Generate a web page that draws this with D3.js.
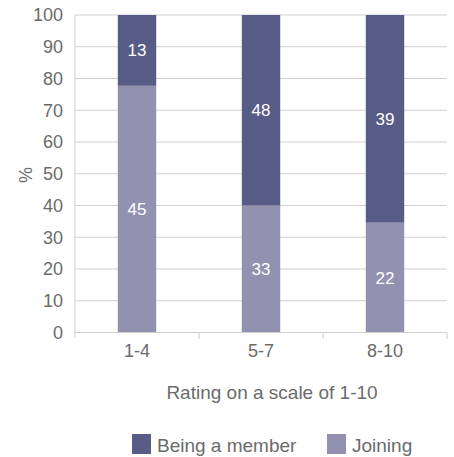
<!DOCTYPE html>
<html><head><meta charset="utf-8">
<script src="https://cdn.jsdelivr.net/npm/d3@7"></script>
<style>body{margin:0;background:#fff}svg{display:block}text{font-family:"Liberation Sans",Arial,sans-serif}</style>
</head><body>
<script>
const categories = ["1-4","5-7","8-10"];
const seriesNames = ["Being a member","Joining"];
// bar segment shares (%)
const joiningPct = [77.7, 40, 34.6];
const memberPct = [22.3, 60, 65.4];
// labels printed on segments
const joiningLabels = [45, 33, 22];
const memberLabels = [13, 48, 39];
const yTicks = [0,10,20,30,40,50,60,70,80,90,100];
const colors = {"Being a member":"#575c87","Joining":"#9391b0"};

const W=454,H=457;
const txt="#6b6b6b";
const svg=d3.select("body").append("svg").attr("width",W).attr("height",H);
const x=d3.scaleBand().domain(categories).range([75,447]).paddingInner(0.69).paddingOuter(0.345);
const y=d3.scaleLinear().domain([0,100]).range([332.5,15]);

// gridlines
svg.append("g").selectAll("line").data(yTicks.filter(d=>d>0)).join("line")
 .attr("x1",75).attr("x2",447).attr("y1",d=>y(d)).attr("y2",d=>y(d))
 .attr("stroke","#cfcfcf").attr("stroke-width",1);

// y axis
const ya=svg.append("g").attr("transform","translate(75,0)")
 .call(d3.axisLeft(y).tickValues(yTicks).tickSize(0).tickPadding(12));
ya.select(".domain").remove();
ya.selectAll("text").attr("fill",txt).style("font-size","18px");
svg.append("line").attr("x1",75).attr("x2",75).attr("y1",15).attr("y2",338).attr("stroke","#cfcfcf");

// bars
const data=categories.map((c,i)=>({c,j:joiningPct[i],m:memberPct[i],jl:joiningLabels[i],ml:memberLabels[i]}));
const g=svg.append("g");
g.selectAll(".j").data(data).join("rect").attr("x",d=>x(d.c)).attr("width",x.bandwidth())
 .attr("y",d=>y(d.j)).attr("height",d=>y(0)-y(d.j)).attr("fill",colors["Joining"]);
g.selectAll(".m").data(data).join("rect").attr("x",d=>x(d.c)).attr("width",x.bandwidth())
 .attr("y",d=>y(d.j+d.m)).attr("height",d=>y(d.j)-y(d.j+d.m)).attr("fill",colors["Being a member"]);
g.selectAll(".jt").data(data).join("text").attr("x",d=>x(d.c)+x.bandwidth()/2)
 .attr("y",d=>(y(0)+y(d.j))/2).attr("dy","0.35em").attr("text-anchor","middle")
 .attr("fill","#fff").style("font-size","17px").text(d=>d.jl);
g.selectAll(".mt").data(data).join("text").attr("x",d=>x(d.c)+x.bandwidth()/2)
 .attr("y",d=>(y(d.j)+y(d.j+d.m))/2).attr("dy","0.35em").attr("text-anchor","middle")
 .attr("fill","#fff").style("font-size","17px").text(d=>d.ml);

// x axis
const xa=svg.append("g").attr("transform","translate(0,332.5)")
 .call(d3.axisBottom(x).tickSize(0).tickPadding(12));
xa.select(".domain").attr("stroke","#cfcfcf").attr("d","M75,0H447");
xa.selectAll("text").attr("fill",txt).style("font-size","18px");
svg.append("g").selectAll("line").data([199,323,447]).join("line")
 .attr("x1",d=>d).attr("x2",d=>d).attr("y1",332.5).attr("y2",339).attr("stroke","#cfcfcf");

svg.append("text").attr("x",272).attr("y",392).attr("dy","0.35em").attr("text-anchor","middle")
 .attr("fill",txt).style("font-size","19px").text("Rating on a scale of 1-10");
svg.append("text").attr("transform","translate(26,175) rotate(-90)").attr("dy","0.35em")
 .attr("text-anchor","middle").attr("fill",txt).style("font-size","18px").text("%");

// legend
const legX=[132,327];
const lg=svg.append("g").selectAll("g").data(seriesNames).join("g")
 .attr("transform",(d,i)=>`translate(${legX[i]},434)`);
lg.append("rect").attr("width",19).attr("height",20).attr("fill",d=>colors[d]);
lg.append("text").attr("x",25).attr("y",11).attr("dy","0.35em").attr("fill",txt)
 .style("font-size","19px").text(d=>d);
</script>
</body></html>
